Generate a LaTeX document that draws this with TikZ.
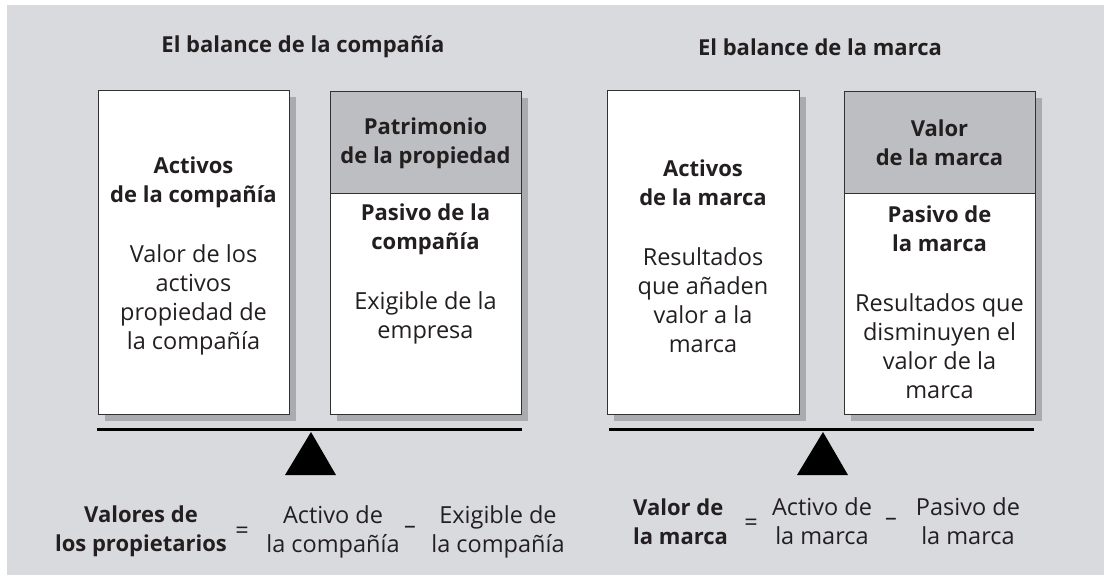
\documentclass[tikz,border=0pt]{standalone}
\usepackage{fontspec}
\setmainfont{Open Sans}
\definecolor{bgedge}{RGB}{217,218,221}
\definecolor{bgmid}{RGB}{242,242,243}
\definecolor{boxline}{RGB}{50,50,52}
\definecolor{shadowc}{RGB}{170,171,175}
\definecolor{headc}{RGB}{189,190,193}
\definecolor{txtc}{RGB}{35,31,32}
\begin{document}
\begin{tikzpicture}[x=1pt,y=-1pt,
  box/.style={draw=boxline, line width=1.3pt, fill=white, inner sep=0pt, anchor=north west},
  headbox/.style={box, fill=headc},
  shad/.style={fill=shadowc},
  lbl/.style={font=\fontsize{23.5}{29}\selectfont, text=txtc, align=center, inner sep=0pt},
  blbl/.style={lbl, font=\fontsize{22}{29}\selectfont\bfseries},
  title/.style={lbl, font=\fontsize{22}{26}\selectfont\bfseries},
  beam/.style={line width=3pt, black},
  fulcrum/.style={fill=black}
]
\useasboundingbox (0,0) rectangle (1104,574);
\fill[white] (0,0) rectangle (1104,574);
\shade[left color=bgedge, middle color=bgmid, right color=bgedge] (7,5) rectangle (1104,574);

% titles
\node[title] (t1) at (303,47) {El balance de la compañía};
\node[title] (t2) at (820,47) {El balance de la marca};

% company boxes
\fill[shad] (105,97) rectangle (296,421);
\fill[shad] (337,98) rectangle (528,421);
\node[box, minimum width=191pt, minimum height=324pt] (ca) at (98,90) {};
\node[headbox, minimum width=191pt, minimum height=102pt] (cp) at (330,91) {};
\node[box, minimum width=191pt, minimum height=221pt] (cl) at (330,193) {};

% brand boxes
\fill[shad] (614,97) rectangle (806,421);
\fill[shad] (851,98) rectangle (1042,421);
\node[box, minimum width=192pt, minimum height=324pt] (ba) at (607,90) {};
\node[headbox, minimum width=191pt, minimum height=102pt] (bp) at (844,91) {};
\node[box, minimum width=191pt, minimum height=221pt] (bl) at (844,193) {};

% company texts
\node[blbl] (ca1) at (193.5,182.5) {Activos\\de la compañía};
\node[lbl] (ca2) at (193.5,300) {Valor de los\\activos\\propiedad de\\la compañía};
\node[blbl] (cp1) at (425.5,143) {Patrimonio\\de la propiedad};
\node[blbl] (cl1) at (425.5,229) {Pasivo de la\\compañía};
\node[lbl] (cl2) at (425.5,317.5) {Exigible de la\\empresa};

% brand texts
\node[blbl] (ba1) at (703,182.5) {Activos\\de la marca};
\node[lbl] (ba2) at (703,300) {Resultados\\que añaden\\valor a la\\marca};
\node[blbl] (bp1) at (939.5,143) {Valor\\de la marca};
\node[blbl] (bl1) at (939.5,229) {Pasivo de\\la marca};
\node[lbl] (bl2) at (939.5,346.5) {Resultados que\\disminuyen el\\valor de la\\marca};

% beams and fulcrums
\coordinate (b1l) at (97,429);
\coordinate (b1r) at (522,429);
\draw[beam] (b1l) -- (b1r);
\coordinate (f1a) at (311,432);
\coordinate (f1l) at (285,475);
\coordinate (f1r) at (336,475);
\fill[fulcrum] (f1a) -- (f1l) -- (f1r) -- cycle;

\coordinate (b2l) at (609,429);
\coordinate (b2r) at (1034,429);
\draw[beam] (b2l) -- (b2r);
\coordinate (f2a) at (823,432);
\coordinate (f2l) at (797,475);
\coordinate (f2r) at (848,475);
\fill[fulcrum] (f2a) -- (f2l) -- (f2r) -- cycle;

% company formula
\node[blbl] (e1a) at (141,531.5) {Valores de\\los propietarios};
\node[lbl] (e1eq) at (242,533) {=};
\node[lbl] (e1b) at (333,531.5) {Activo de\\la compañía};
\node[lbl] (e1mi) at (410,530) {–};
\node[lbl] (e1c) at (498,531.5) {Exigible de\\la compañía};

% brand formula
\node[blbl, align=left, anchor=west] (e2a) at (633,521.5) {Valor de\\la marca};
\node[lbl] (e2eq) at (751,525) {=};
\node[lbl] (e2b) at (822,521.5) {Activo de\\la marca};
\node[lbl] (e2mi) at (891,522) {–};
\node[lbl] (e2c) at (968,521.5) {Pasivo de\\la marca};
\end{tikzpicture}
\end{document}
